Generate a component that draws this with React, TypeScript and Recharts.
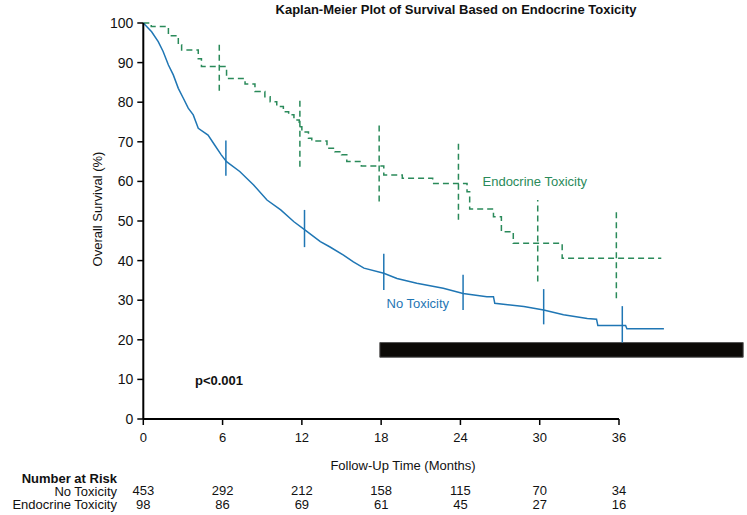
import React from 'react';
import { ComposedChart, Line, XAxis, YAxis, ReferenceLine, ReferenceArea } from 'recharts';

// ---- data ----
const monthTicks = [0, 6, 12, 18, 24, 30, 36];
const survivalTicks = [0, 10, 20, 30, 40, 50, 60, 70, 80, 90, 100];

const riskNoToxicity = [453, 292, 212, 158, 115, 70, 34];
const riskEndocrine = [98, 86, 69, 61, 45, 27, 16];

const noToxTime = [0, 0.63, 1.13, 1.5, 1.9, 2.27, 2.65, 3.03, 3.4, 3.78, 4.16, 4.9, 5.4, 5.9, 6.3, 7.3, 8.35, 9.36, 10.4, 11.4, 12.25, 13.4, 14.1, 15.15, 15.9, 16.7, 18.2, 19.2, 20.7, 22.7, 24.2, 26.0, 26.5, 26.6, 28.8, 30.3, 31.8, 33.6, 34.3, 34.4, 36.5, 36.6, 39.4];
const noToxSurv = [100, 97.8, 95.3, 92.8, 89.4, 86.9, 83.5, 81.0, 78.5, 76.8, 73.4, 71.7, 69.2, 66.7, 65.0, 62.5, 59.1, 55.3, 52.8, 49.8, 47.7, 44.8, 43.5, 41.4, 39.7, 38.1, 36.8, 35.5, 34.3, 33.0, 31.7, 30.9, 30.9, 29.2, 28.4, 27.5, 26.3, 25.4, 25.2, 23.6, 23.6, 22.8, 22.8];

const endoTime = [0, 0.6, 1.9, 2.65, 2.9, 4.16, 4.4, 6.3, 7.7, 8.45, 9.2, 9.6, 10.1, 10.6, 11.0, 11.4, 11.8, 12.0, 12.5, 12.75, 13.9, 14.5, 15.0, 15.4, 16.5, 18.2, 19.6, 21.9, 24.5, 24.7, 26.5, 27.1, 28.0, 31.7, 39.2];
const endoSurv = [100, 99.1, 96.8, 94.5, 93.2, 91.0, 89.0, 86.0, 84.6, 82.7, 81.4, 80.1, 78.9, 77.6, 76.8, 75.5, 73.8, 72.5, 70.9, 70.2, 68.4, 67.5, 66.7, 65.0, 63.9, 61.6, 60.8, 59.5, 57.4, 53.0, 51.1, 47.3, 44.4, 40.6, 40.6];

const ciNoToxTime = [6.25, 12.2, 18.2, 24.2, 30.3, 36.25];
const ciNoToxLow = [61.4, 43.4, 32.6, 27.5, 23.9, 19.3];
const ciNoToxHigh = [70.3, 52.8, 41.7, 36.4, 32.8, 28.5];

const ciEndoTime = [5.75, 11.85, 17.85, 23.85, 29.85, 35.8];
const ciEndoLow = [82.9, 63.7, 54.9, 50.3, 34.7, 30.5];
const ciEndoHigh = [95.1, 81.4, 74.2, 70.3, 55.3, 53.2];

// black bar seen in the picture (months / percent)
const barMonths = [17.9, 45.4];
const barPercent = [15.6, 19.3];

const xMax = 45.4;

// ---- tables built from the arrays ----
const noToxData = noToxTime.map((t, i) => ({ t, s: noToxSurv[i] }));
const endoData = endoTime.map((t, i) => ({ t, s: endoSurv[i] }));

const BLUE = '#1f76b4';
const GREEN = '#2a8a5a';
const FONT = '"Liberation Sans", Arial, Helvetica, sans-serif';

function MonthTick(props: any) {
  const { x, y, payload } = props;
  const idx = monthTicks.indexOf(payload.value);
  const common = { textAnchor: 'middle' as const, fontSize: 13, fontFamily: FONT, fill: '#111' };
  return (
    <g>
      <text x={x} y={y} dy="0.71em" {...common}>{payload.value}</text>
      <text x={x} y={y + 53} dy="0.71em" {...common}>{riskNoToxicity[idx]}</text>
      <text x={x} y={y + 66.3} dy="0.71em" {...common}>{riskEndocrine[idx]}</text>
    </g>
  );
}

export default function App() {
  const tickStyle = { fill: '#111', fontSize: 14, fontFamily: FONT };
  return (
    <div style={{ position: 'absolute', left: 0, top: 0, width: 747, height: 515, background: '#fff' }}>
      <ComposedChart
        width={747}
        height={515}
        margin={{ top: 23, right: 3.8, left: 83.3, bottom: 29 }}
      >
        <XAxis
          xAxisId="main"
          type="number"
          dataKey="t"
          domain={[0, xMax]}
          ticks={monthTicks}
          axisLine={false}
          tickLine={{ stroke: '#000', strokeWidth: 1.5 }}
          tickSize={6}
          tickMargin={8}
          height={67}
          tick={<MonthTick />}
          interval={0}
        />
        <YAxis
          type="number"
          domain={[0, 100]}
          ticks={survivalTicks}
          width={60}
          axisLine={{ stroke: '#000', strokeWidth: 2 }}
          tickLine={{ stroke: '#000', strokeWidth: 1.5 }}
          tickSize={6}
          tickMargin={4}
          tick={tickStyle}
        />
        <ReferenceLine
          xAxisId="main"
          segment={[{ x: 0, y: 0 }, { x: monthTicks[monthTicks.length - 1], y: 0 }]}
          stroke="#000"
          strokeWidth={2}
          ifOverflow="visible"
        />
        <ReferenceArea
          xAxisId="main"
          x1={barMonths[0]}
          x2={barMonths[1]}
          y1={barPercent[0]}
          y2={barPercent[1]}
          fill="#0c0a07"
          fillOpacity={1}
          stroke="#555"
          strokeWidth={1}
          ifOverflow="visible"
        />
        {ciEndoTime.map((t, i) => (
          <ReferenceLine
            key={'ce' + i}
            xAxisId="main"
            segment={[{ x: t, y: ciEndoLow[i] }, { x: t, y: ciEndoHigh[i] }]}
            stroke={GREEN}
            strokeWidth={1.5}
            strokeDasharray="6 4"
          />
        ))}
        {ciNoToxTime.map((t, i) => (
          <ReferenceLine
            key={'cn' + i}
            xAxisId="main"
            segment={[{ x: t, y: ciNoToxLow[i] }, { x: t, y: ciNoToxHigh[i] }]}
            stroke={BLUE}
            strokeWidth={1.5}
          />
        ))}
        <Line
          xAxisId="main"
          data={endoData}
          dataKey="s"
          type="stepAfter"
          stroke={GREEN}
          strokeWidth={1.5}
          strokeDasharray="6 4"
          dot={false}
          activeDot={false}
          isAnimationActive={false}
        />
        <Line
          xAxisId="main"
          data={noToxData}
          dataKey="s"
          type="linear"
          stroke={BLUE}
          strokeWidth={1.5}
          dot={false}
          activeDot={false}
          isAnimationActive={false}
        />
      </ComposedChart>
      <svg
        width={747}
        height={515}
        style={{ position: 'absolute', left: 0, top: 0, pointerEvents: 'none' }}
        fontFamily={FONT}
      >
        <text x={456} y={9} textAnchor="middle" dominantBaseline="central" fontSize={13} fontWeight="bold" fill="#111">
          Kaplan-Meier Plot of Survival Based on Endocrine Toxicity
        </text>
        <text
          transform="translate(97,209) rotate(-90)"
          textAnchor="middle"
          dominantBaseline="central"
          fontSize={13}
          fill="#111"
        >
          Overall Survival (%)
        </text>
        <text x={403} y={465} textAnchor="middle" dominantBaseline="central" fontSize={13} fill="#111">
          Follow-Up Time (Months)
        </text>
        <text x={117} y={478.5} textAnchor="end" dominantBaseline="central" fontSize={13} fontWeight="bold" fill="#111">
          Number at Risk
        </text>
        <text x={117} y={491} textAnchor="end" dominantBaseline="central" fontSize={13} fill="#111">
          No Toxicity
        </text>
        <text x={117} y={504} textAnchor="end" dominantBaseline="central" fontSize={13} fill="#111">
          Endocrine Toxicity
        </text>
        <text x={195} y={380} dominantBaseline="central" fontSize={13} fontWeight="bold" fill="#111">
          p&lt;0.001
        </text>
        <text x={386.5} y={303.5} dominantBaseline="central" fontSize={13} fill={BLUE}>
          No Toxicity
        </text>
        <text x={482.5} y={181} dominantBaseline="central" fontSize={13} fill={GREEN}>
          Endocrine Toxicity
        </text>
      </svg>
    </div>
  );
}
